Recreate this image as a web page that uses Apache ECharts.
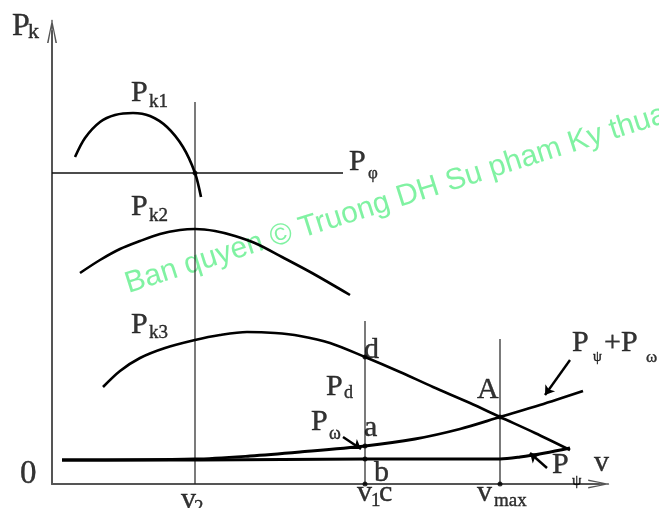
<!DOCTYPE html>
<html>
<head>
<meta charset="utf-8">
<script src="https://cdn.jsdelivr.net/npm/echarts@6/dist/echarts.min.js"></script>
<style>
  html, body { margin: 0; padding: 0; background: #fff; }
  #chart { width: 659px; height: 508px; }
</style>
</head>
<body>
<div id="chart"></div>
<script>
// Traction balance: driving force per gear (Pk1..Pk3) against road and air resistance.
// Speed v and force P are in arbitrary diagram units.

// Driving force, 1st gear
const pk1V = [23, 33, 48, 63, 81, 98, 115, 131, 143, 149];
const pk1P = [327, 346, 362, 369, 371, 368, 357, 337, 311, 287];
// Driving force, 2nd gear
const pk2V = [28, 48, 68, 88, 108, 128, 143, 163, 183, 205, 230, 260, 298];
const pk2P = [211, 224, 235, 243, 250, 254, 255, 253, 248, 240, 227, 211, 189];
// Driving force, 3rd gear
const pk3V = [51, 68, 88, 113, 143, 168, 195, 223, 248, 278, 313, 348, 381, 418, 448, 483, 518];
const pk3P = [97, 113, 126, 136, 144, 149, 152, 151, 148, 141, 127, 112, 97, 81, 67, 51, 34];
// Road resistance P_psi
const ppsiV = [10, 148, 313, 448, 468, 493, 518];
const ppsiP = [24, 24, 25, 25, 27, 31, 36];
// Road + air resistance P_psi + P_omega
const ptotV = [10, 143, 198, 248, 313, 363, 408, 448, 488, 531];
const ptotP = [24, 25, 28, 32, 38, 45, 55, 67, 79, 93];
// Adhesion limit P_phi
const pphi = 311;
const pphiEnd = 291;
// Characteristic speeds and the tops of their guide lines
const v2 = 143, v2Top = 382;
const v1 = 313, v1Top = 163;
const vmax = 448, vmaxTop = 145;
// Marked points: Pk1 x Pphi, d, a, b, c, A, vmax on the axis
const markV = [143, 313, 313, 313, 313, 448, 448];
const markP = [311, 127, 38, 25, 0, 67, 0];
// Pointer arrows: tail -> head
const arrowTails = [[291, 47], [518, 124], [495, 16]];
const arrowHeads = [[309, 35], [493, 89], [478, 31]];

// Text items: glyphs, left edge (v), baseline (P), font size
const textT = ['P', 'k', 'P', 'k1', 'P', 'φ', 'P', 'k2', 'P', 'k3', 'd', 'P', 'd', 'P', 'ω', 'a', 'A',
               'P', 'ψ', '+', 'P', 'ω', 'b', 'v', '1', 'c', 'v', 'max', 'v', '2', '0', 'P', 'ψ', 'v'];
const textV = [-40, -24, 79, 97, 297, 316, 79, 97, 79, 97, 312, 274, 292, 259, 277, 312, 425,
               520, 541, 552, 569, 594, 322, 305, 319, 327, 425, 442, 129, 142, -32, 500, 520, 542];
const textP = [447, 444, 381, 376, 312, 305, 267, 262, 149, 145, 124, 87, 85, 52, 44, 46, 84,
               131, 122, 131, 131, 121, 1, -19, -23, -19, -19, -23, -26, -30, -2, 9, -2, 11];
const textS = [32, 22, 30, 19, 30, 17, 30, 19, 30, 19, 30, 30, 18, 30, 18, 30, 30,
               30, 14, 30, 30, 17, 30, 30, 19, 30, 30, 19, 30, 19, 33, 30, 15, 30];

const zip = (a, b) => a.map((x, i) => [x, b[i]]);
const serif = 'Liberation Serif, Times New Roman, serif';

function curve(name, v, p, width) {
  return {
    name, type: 'line', data: zip(v, p), smooth: 0.3,
    showSymbol: false, silent: true,
    lineStyle: { color: '#000', width: width || 2.6 }, z: 3
  };
}
function guide(v, top) {
  return {
    type: 'line', data: [[v, 0], [v, top]], showSymbol: false, silent: true,
    lineStyle: { color: '#222', width: 1.2 }, z: 2
  };
}

const arrowPath = 'path://M5,0 L10,24 L8.4,24 L5,5 L1.6,24 L0,24 Z M4.3,1 L5.7,1 L5.7,24 L4.3,24 Z';

const chart = echarts.init(document.getElementById('chart'), null, { renderer: 'canvas' });
chart.setOption({
  animation: false,
  backgroundColor: '#fff',
  grid: { left: 52, right: 60, top: 31, bottom: 24 },
  xAxis: {
    type: 'value', min: 0, max: 547,
    axisLine: { lineStyle: { color: '#555', width: 2 }, symbol: ['none', arrowPath], symbolSize: [9, 22] },
    axisTick: { show: false }, axisLabel: { show: false }, splitLine: { show: false }
  },
  yAxis: {
    type: 'value', min: 0, max: 453,
    axisLine: { show: true, lineStyle: { color: '#555', width: 2 }, symbol: ['none', arrowPath], symbolSize: [10, 24] },
    axisTick: { show: false }, axisLabel: { show: false }, splitLine: { show: false }
  },
  graphic: [{
    type: 'text', x: 126, y: 285, rotation: 17.6 * Math.PI / 180, z: 0, silent: true,
    style: {
      text: 'Ban quyen © Truong DH Su pham Ky thuat',
      fontSize: 30, fontFamily: 'Liberation Sans, Arial, sans-serif',
      fill: '#80f2a2', align: 'left', verticalAlign: 'middle'
    }
  }],
  series: [
    guide(v2, v2Top),
    guide(v1, v1Top),
    guide(vmax, vmaxTop),
    {
      type: 'line', data: [[0, pphi], [pphiEnd, pphi]], showSymbol: false, silent: true,
      lineStyle: { color: '#111', width: 1.5 }, z: 2
    },
    curve('Pk1', pk1V, pk1P),
    curve('Pk2', pk2V, pk2P),
    curve('Pk3', pk3V, pk3P),
    curve('Ppsi', ppsiV, ppsiP, 3),
    curve('Ppsi+Pomega', ptotV, ptotP, 2.8),
    {
      type: 'scatter', data: zip(markV, markP), symbolSize: 5, silent: true,
      itemStyle: { color: '#000' }, z: 4
    },
    {
      type: 'lines', coordinateSystem: 'cartesian2d', silent: true,
      data: arrowTails.map((t, i) => ({ coords: [t, arrowHeads[i]] })),
      symbol: ['none', 'arrow'], symbolSize: 9,
      lineStyle: { color: '#000', width: 2.4, curveness: 0, opacity: 1 }, z: 4
    },
    {
      type: 'scatter', clip: false, silent: true, symbolSize: 0, z: 5,
      itemStyle: { color: '#000' },
      data: textT.map((t, i) => ({
        value: [textV[i], textP[i]],
        label: {
          show: true, position: 'inside', formatter: t,
          align: 'left', verticalAlign: 'middle',
          offset: [0, -0.34 * textS[i]],
          fontSize: textS[i], fontFamily: serif, color: '#000',
          textBorderColor: '#000', textBorderWidth: 0.4
        }
      }))
    }
  ]
});
</script>
</body>
</html>
